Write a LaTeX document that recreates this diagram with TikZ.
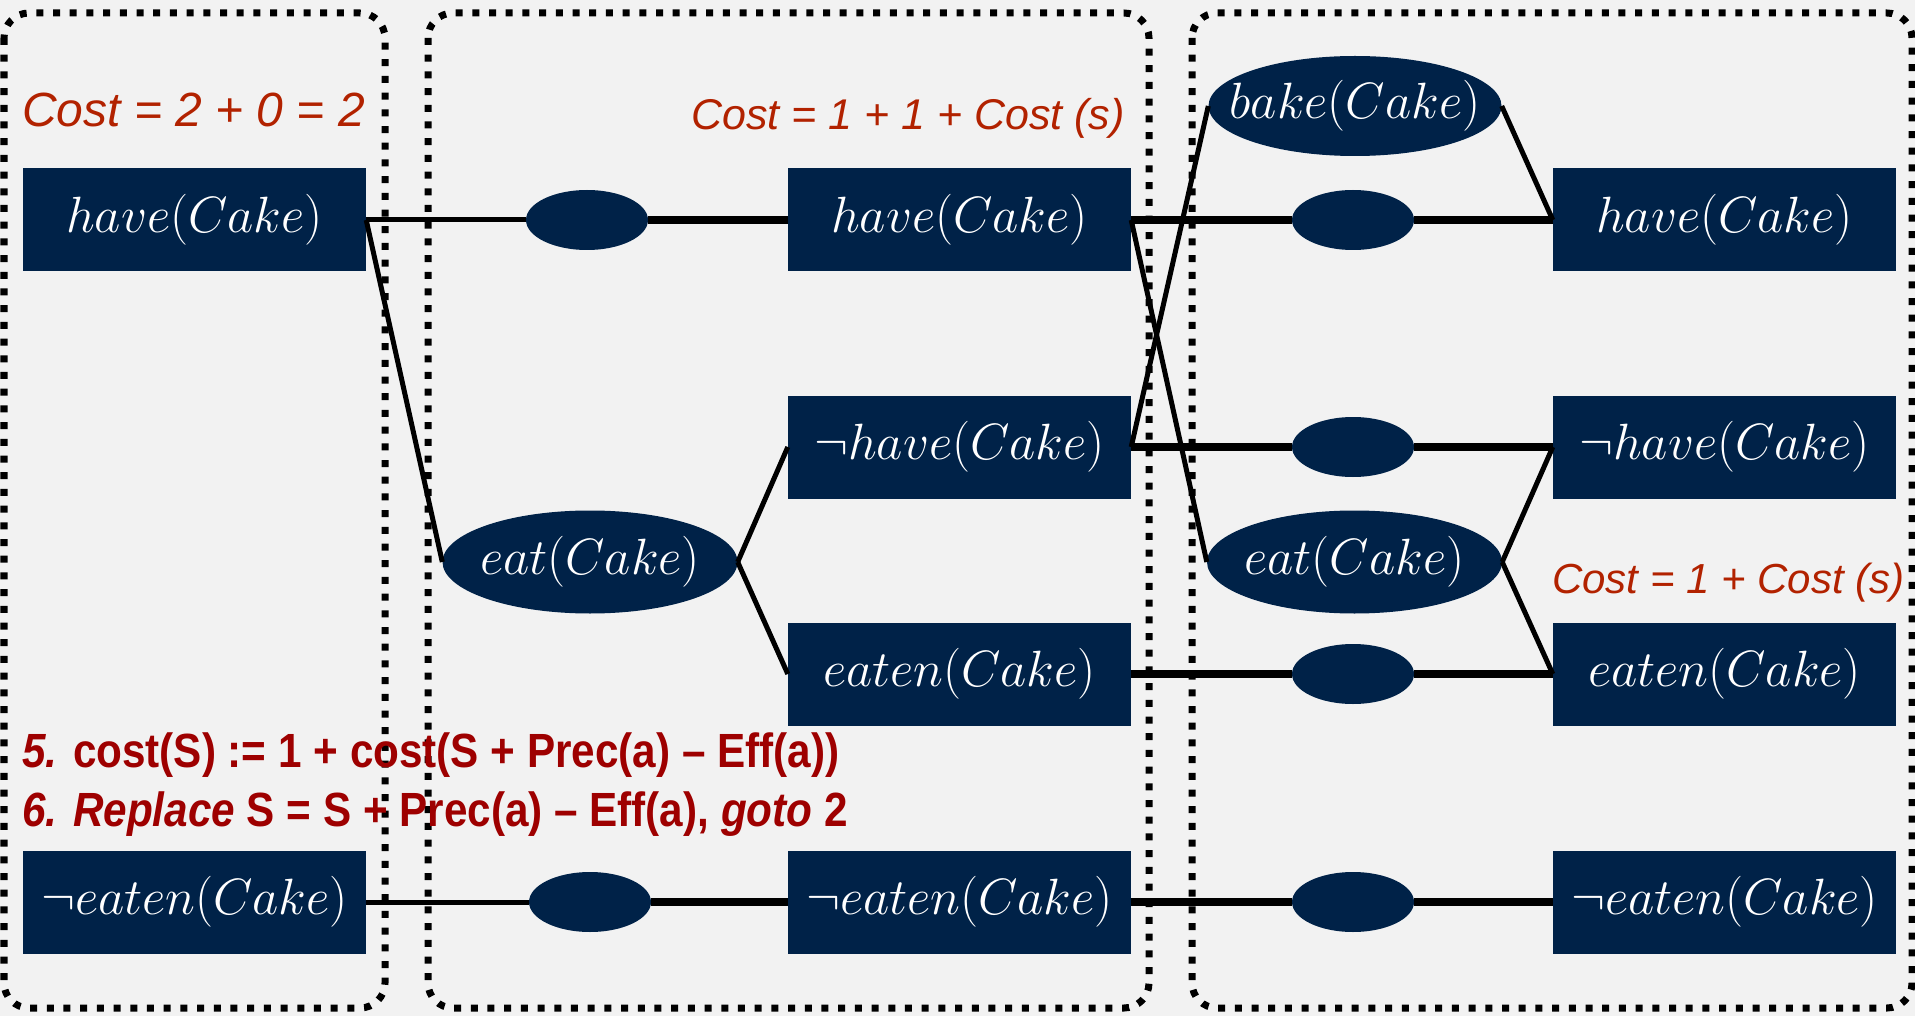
\RequirePackage{fix-cm}
\documentclass[tikz,border=0pt]{standalone}
\usepackage{fontspec}
\newfontfamily\arialfont{Liberation Sans}
\newfontfamily\narrowfont[FakeStretch=0.88]{Liberation Sans}
\usetikzlibrary{shapes.geometric}
\definecolor{navy}{RGB}{0,34,72}
\definecolor{bgc}{RGB}{242,242,242}
\definecolor{costred}{RGB}{178,34,0}
\definecolor{algred}{RGB}{158,0,0}
\newcommand{\acttext}[1]{\makebox[190pt]{$#1$}}
\tikzset{
  panel/.style={draw=black, line width=7pt, dash pattern=on 7pt off 9.7pt, rounded corners=25pt},
  fact/.style={rectangle, fill=navy, text=white, minimum width=343pt, minimum height=103pt, inner sep=0pt, font=\fontsize{51}{54}\selectfont},
  act/.style={ellipse, fill=navy, text=white, minimum width=295pt, minimum height=103pt, inner sep=0pt, font=\fontsize{51}{54}\selectfont},
  noop/.style={ellipse, fill=navy, minimum width=122pt, minimum height=60pt, inner sep=0pt},
  lnA/.style={draw=black, line width=5pt},
  lnB/.style={draw=black, line width=7.5pt},
  costlbl/.style={text=costred, inner sep=0pt},
  alglbl/.style={text=algred, inner sep=0pt, font=\narrowfont\bfseries\fontsize{48}{52}\selectfont}
}
\begin{document}
\begin{tikzpicture}[x=1pt,y=-1pt]
\fill[bgc] (0,0) rectangle (1915,1016);
\useasboundingbox (0,0) rectangle (1915,1016);

% panels
\draw[panel] (4,13) rectangle (385,1008);
\draw[panel] (428,13) rectangle (1149,1008);
\draw[panel] (1192,13) rectangle (1912,1008);

% left column
\node[fact] (hL) at (194.5,220) {$have(Cake)$};
\node[fact] (neL) at (194.5,902) {$\neg eaten(Cake)$};

% middle column
\node[noop] (n1) at (587,220) {};
\node[act] (eatM) at (590,562) {\acttext{eat(Cake)}};
\node[noop] (n2) at (590,902) {};
\node[fact] (hM) at (959.5,220) {$have(Cake)$};
\node[fact] (nhM) at (959.5,447) {$\neg have(Cake)$};
\node[fact] (eM) at (959.5,674) {$eaten(Cake)$};
\node[fact] (neM) at (959.5,902) {$\neg eaten(Cake)$};

% right column
\node[act, minimum width=293pt, minimum height=100pt] (bake) at (1355,106) {\acttext{bake(Cake)}};
\node[noop] (n3) at (1353,220) {};
\node[noop] (n4) at (1353,447) {};
\node[act] (eatR) at (1354.5,562) {\acttext{eat(Cake)}};
\node[noop] (n5) at (1353,674) {};
\node[noop] (n6) at (1353,902) {};
\node[fact] (hR) at (1724.5,220) {$have(Cake)$};
\node[fact] (nhR) at (1724.5,447) {$\neg have(Cake)$};
\node[fact] (eR) at (1724.5,674) {$eaten(Cake)$};
\node[fact] (neR) at (1724.5,902) {$\neg eaten(Cake)$};

% connectors
\draw[lnA] (hL.east) -- (n1.west);
\draw[lnB] (n1.east) -- (hM.west);
\draw[lnA] (hL.east) -- (eatM.west);
\draw[lnA] (neL.east) -- (n2.west);
\draw[lnB] (n2.east) -- (neM.west);
\draw[lnA] (eatM.east) -- (nhM.west);
\draw[lnA] (eatM.east) -- (eM.west);

\draw[lnB] (hM.east) -- (n3.west);
\draw[lnB] (n3.east) -- (hR.west);
\draw[lnA] (hM.east) -- (eatR.west);
\draw[lnA] (nhM.east) -- (bake.west);
\draw[lnB] (nhM.east) -- (n4.west);
\draw[lnB] (n4.east) -- (nhR.west);
\draw[lnB] (eM.east) -- (n5.west);
\draw[lnB] (n5.east) -- (eR.west);
\draw[lnB] (neM.east) -- (n6.west);
\draw[lnB] (n6.east) -- (neR.west);
\draw[lnA] (bake.east) -- (hR.west);
\draw[lnA] (eatR.east) -- (nhR.west);
\draw[lnA] (eatR.east) -- (eR.west);

% labels
\node[costlbl, anchor=base west, font=\arialfont\itshape\fontsize{48}{52}\selectfont] (c1) at (22,127) {Cost = 2 + 0 = 2};
\node[costlbl, anchor=base east, font=\arialfont\itshape\fontsize{43}{48}\selectfont] (c2) at (1125,130) {Cost = 1 + 1 + Cost (s)};
\node[costlbl, anchor=base west, font=\arialfont\itshape\fontsize{42}{46}\selectfont] (c3) at (1552,593) {Cost = 1 + Cost (s)};
\node[alglbl, anchor=base west] (a5) at (22,767) {{\itshape 5.} cost(S) := 1 + cost(S + Prec(a) – Eff(a))};
\node[alglbl, anchor=base west] (a6) at (22,826) {{\itshape 6. Replace} S = S + Prec(a) – Eff(a), {\itshape goto} 2};
\end{tikzpicture}
\end{document}
